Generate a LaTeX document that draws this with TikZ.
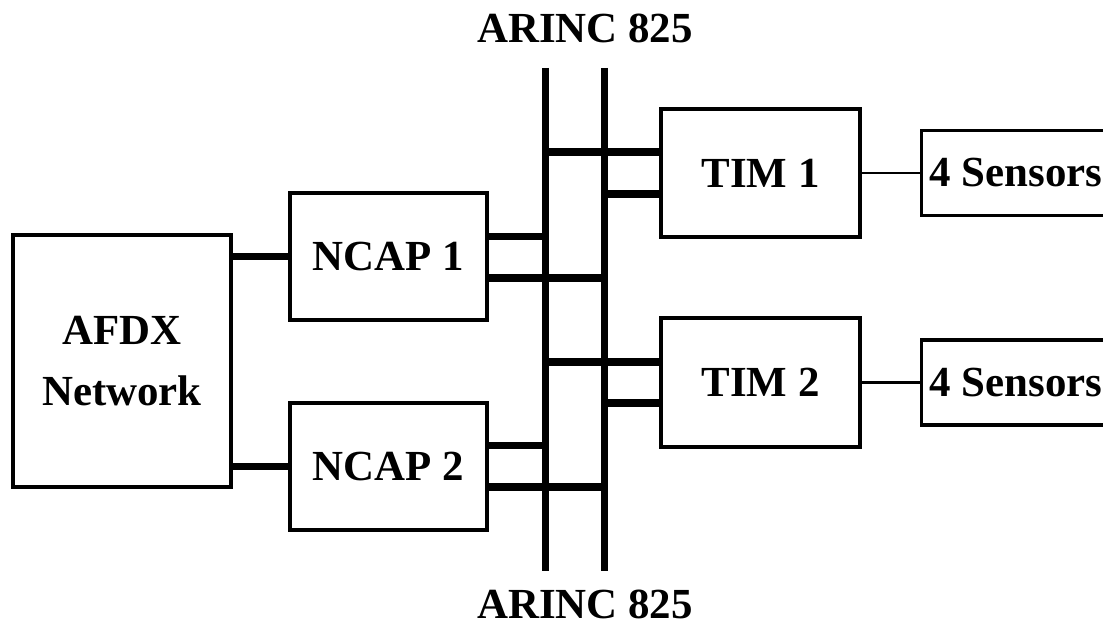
\documentclass[tikz,border=0pt]{standalone}
\usepackage{fontspec}
\setmainfont{Liberation Serif}
\begin{document}
\begin{tikzpicture}[x=0.025cm,y=-0.025cm,
  boxnode/.style={draw=black,line width=2.4pt,fill=white,inner sep=0pt,
    font=\bfseries\fontsize{30.5}{43}\selectfont,align=center},
  busline/.style={line width=5.3pt,line cap=butt},
  thickconn/.style={line width=5.3pt,line cap=butt},
  thinconn/.style={line width=2pt},
  lbl/.style={font=\bfseries\fontsize{30.5}{43}\selectfont,inner sep=0pt}]
\useasboundingbox (0,0) rectangle (1103,630);
\fill[white] (0,0) rectangle (1103,630);
\clip (0,0) rectangle (1103,630);

% boxes
\node[boxnode,minimum width=5.45cm,minimum height=6.3cm] (afdx) at (122,361) {AFDX\\Network};
\node[boxnode,minimum width=4.925cm,minimum height=3.175cm] (ncap1) at (388.5,256.5) {NCAP 1};
\node[boxnode,minimum width=4.925cm,minimum height=3.175cm] (ncap2) at (388.5,466.5) {NCAP 2};
\node[boxnode,minimum width=4.975cm,minimum height=3.2cm] (tim1) at (760.5,173) {TIM 1};
\node[boxnode,minimum width=4.975cm,minimum height=3.225cm] (tim2) at (760.5,382.5) {TIM 2};
\node[boxnode,minimum height=2.125cm,inner xsep=0.2cm,anchor=west] (sens1) at (920,173) {4 Sensors};
\node[boxnode,minimum height=2.125cm,inner xsep=0.2cm,anchor=west] (sens2) at (920,382.5) {4 Sensors};

% labels
\node[lbl] (arinctop) at (585,28.5) {ARINC 825};
\node[lbl] (arincbot) at (585,604.5) {ARINC 825};

% bus ends
\coordinate (LT) at (545.5,68);
\coordinate (LB) at (545.5,571);
\coordinate (RT) at (604.5,68);
\coordinate (RB) at (604.5,571);
\draw[busline] (LT) -- (LB);
\draw[busline] (RT) -- (RB);

% AFDX to NCAPs
\draw[thickconn] (ncap1.west -| afdx.east) -- (ncap1.west);
\draw[thickconn] (ncap2.west -| afdx.east) -- (ncap2.west);

% NCAPs to bus
\draw[thickconn] (ncap1.east |- 0,236.5) -- (LT |- 0,236.5);
\draw[thickconn] (ncap1.east |- 0,278) -- (RT |- 0,278);
\draw[thickconn] (ncap2.east |- 0,445.5) -- (LT |- 0,445.5);
\draw[thickconn] (ncap2.east |- 0,487) -- (RT |- 0,487);

% bus to TIMs
\draw[thickconn] (LT |- 0,152) -- (tim1.west |- 0,152);
\draw[thickconn] (RT |- 0,194) -- (tim1.west |- 0,194);
\draw[thickconn] (LT |- 0,362) -- (tim2.west |- 0,362);
\draw[thickconn] (RT |- 0,403) -- (tim2.west |- 0,403);

% TIMs to sensors
\draw[thinconn] (tim1.east) -- (sens1.west);
\draw[thinconn] (tim2.east) -- (sens2.west);
\end{tikzpicture}
\end{document}
